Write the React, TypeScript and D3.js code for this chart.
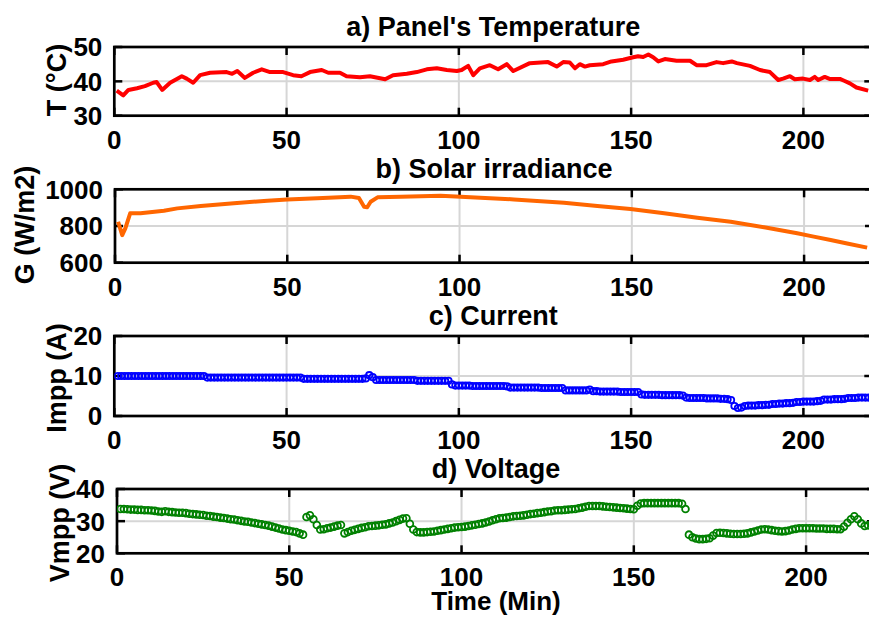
import React from "react";
import * as d3 from "d3";

// a) panel temperature (min, degC)
const tempTime = [0.7, 2.6, 4.1, 6.6, 8.9, 11.3, 12.3, 13.9, 16.2, 19.6, 21, 22.9, 24.9, 27.8, 32.6, 34.2, 35.7, 37.9, 40.3, 42.8, 45.2, 49, 51.9, 54.3, 56.8, 60.2, 62.1, 65.5, 67.4, 71.3, 74.2, 78.6, 80.9, 84.9, 87.8, 90.7, 93.6, 96.5, 99.4, 100.8, 102.7, 104.2, 106.1, 109, 111.4, 113.9, 115.8, 120.6, 125.9, 128.4, 130.3, 132.2, 133.7, 135.1, 136.6, 138, 141.9, 144.3, 147.7, 150.6, 152, 153.5, 155, 156.4, 157.9, 159.8, 163.2, 167.1, 169, 171.9, 174.8, 176.7, 179.2, 180.7, 184.5, 187.4, 190.3, 192.7, 194.1, 196.1, 197.5, 199.9, 201.9, 203.3, 204.3, 206.2, 207.6, 210.6, 212, 213.5, 215.4, 218.8];
const tempVal = [37.3, 35.9, 37.5, 38, 38.6, 39.6, 39.8, 37.5, 39.6, 41.5, 40.8, 39.6, 41.8, 42.5, 42.7, 42.2, 43, 41, 42.5, 43.5, 42.7, 42.7, 41.8, 41.5, 42.7, 43.3, 42.5, 42.5, 41.5, 41.2, 41.5, 40.6, 41.8, 42.2, 42.7, 43.5, 43.8, 43.3, 43, 43.3, 44.5, 41.8, 43.8, 44.7, 43.5, 45, 43, 45.3, 45.6, 44.3, 45.6, 45.5, 43.8, 45, 44.3, 44.7, 45, 45.8, 46.3, 47, 47.3, 47.1, 47.8, 47, 45.8, 46.5, 46, 46, 44.7, 44.7, 45.6, 45.3, 45.8, 45.3, 44.5, 43.3, 42.7, 40.4, 40.8, 41.5, 40.6, 40.8, 40.4, 41.3, 40.4, 41.3, 40.7, 40.7, 40.1, 39.4, 38.2, 37.3];

// b) solar irradiance (W/m2)
const irrTime = [0.9, 2.1, 3, 4.4, 7.4, 14.2, 18.1, 24.9, 34.5, 44.2, 50, 58.7, 68.4, 70.8, 72.3, 73.2, 74.2, 76.2, 83, 94.5, 100.3, 115.8, 130.3, 140, 149.6, 159.4, 169, 178.7, 188.4, 198, 202.8, 207.7, 212.5, 218.3];
const irrVal = [823, 750, 787, 869, 870, 883, 896, 909, 924, 938, 945, 951, 960, 953, 905, 902, 932, 956, 960, 965, 960, 945, 927, 909, 893, 869, 845, 823, 793, 760, 742, 724, 705, 682];

// c) and d) one sample per minute, starting at minute 1
const impp = [
  10.0, 10.0, 10.0, 10.0, 10.0, 10.0, 10.0, 10.0, 10.0, 10.0,
  10.0, 10.0, 10.0, 10.0, 10.0, 10.0, 10.0, 10.0, 10.0, 10.0,
  10.0, 10.0, 10.0, 10.0, 10.0, 10.0, 9.6, 9.6, 9.6, 9.6,
  9.6, 9.6, 9.6, 9.6, 9.6, 9.6, 9.6, 9.6, 9.6, 9.6,
  9.6, 9.6, 9.6, 9.6, 9.6, 9.6, 9.6, 9.6, 9.6, 9.6,
  9.6, 9.6, 9.6, 9.6, 9.3, 9.3, 9.3, 9.3, 9.3, 9.3,
  9.3, 9.3, 9.3, 9.3, 9.3, 9.3, 9.3, 9.3, 9.3, 9.3,
  9.3, 9.3, 9.4, 10.2, 9.7, 9.0, 9.0, 9.0, 9.0, 9.0,
  9.0, 9.0, 9.0, 9.0, 9.0, 9.0, 9.0, 8.8, 8.8, 8.8,
  8.8, 8.8, 8.8, 8.8, 8.8, 8.8, 8.8, 7.9, 7.6, 7.6,
  7.6, 7.6, 7.6, 7.5, 7.5, 7.5, 7.5, 7.5, 7.5, 7.5,
  7.5, 7.5, 7.5, 7.4, 7.1, 7.1, 7.1, 7.1, 7.1, 7.1,
  7.1, 7.1, 7.1, 7.0, 7.0, 7.0, 7.0, 7.0, 7.0, 7.0,
  6.4, 6.4, 6.4, 6.4, 6.4, 6.4, 6.4, 6.6, 6.2, 6.2,
  6.1, 6.1, 6.1, 6.1, 6.1, 6.1, 6.0, 6.0, 6.0, 6.0,
  6.0, 6.0, 5.4, 5.3, 5.3, 5.3, 5.3, 5.3, 5.2, 5.2,
  5.2, 5.2, 5.2, 5.2, 5.1, 4.6, 4.5, 4.5, 4.5, 4.5,
  4.5, 4.4, 4.4, 4.4, 4.4, 4.3, 4.3, 4.2, 4.0, 2.5,
  2.0, 2.1, 2.5, 2.6, 2.6, 2.6, 2.7, 2.7, 2.8, 2.8,
  3.0, 3.0, 3.1, 3.1, 3.2, 3.2, 3.3, 3.5, 3.5, 3.6,
  3.6, 3.6, 3.6, 3.7, 3.8, 4.1, 4.1, 4.1, 4.2, 4.2,
  4.2, 4.3, 4.5, 4.5, 4.5, 4.6, 4.6, 4.6, 4.6,
];
const vmpp = [
  33.8, 33.8, 33.7, 33.6, 33.6, 33.5, 33.5, 33.4, 33.4, 33.3,
  33.2, 33.0, 32.9, 33.1, 32.9, 32.8, 32.7, 32.6, 32.6, 32.5,
  32.3, 32.2, 32.1, 32.0, 31.9, 31.7, 31.6, 31.4, 31.3, 31.1,
  31.0, 30.8, 30.6, 30.5, 30.3, 30.1, 29.9, 29.8, 29.6, 29.4,
  29.2, 29.0, 28.8, 28.6, 28.3, 28.0, 27.7, 27.4, 27.2, 27.0,
  26.8, 26.6, 26.2, 25.8, 31.3, 31.8, 30.6, 28.8, 27.4, 27.5,
  27.8, 28.0, 28.3, 28.6, 28.8, 26.2, 26.6, 27.0, 27.3, 27.6,
  27.9, 28.1, 28.4, 28.5, 28.6, 28.7, 28.9, 29.0, 29.3, 29.6,
  30.0, 30.4, 30.8, 30.9, 29.2, 27.4, 26.6, 26.5, 26.5, 26.6,
  26.7, 26.8, 27.0, 27.2, 27.4, 27.6, 27.8, 28.0, 28.1, 28.2,
  28.3, 28.5, 28.7, 28.9, 29.1, 29.3, 29.6, 29.9, 30.3, 30.6,
  30.9, 31.0, 31.1, 31.3, 31.5, 31.6, 31.7, 31.8, 32.0, 32.2,
  32.3, 32.5, 32.6, 32.8, 33.0, 33.1, 33.3, 33.4, 33.4, 33.5,
  33.6, 33.7, 33.8, 34.0, 34.2, 34.5, 34.7, 34.7, 34.7, 34.7,
  34.6, 34.5, 34.4, 34.3, 34.2, 34.1, 34.0, 33.9, 33.8, 33.7,
  34.8, 35.5, 35.6, 35.6, 35.6, 35.6, 35.6, 35.6, 35.6, 35.6,
  35.6, 35.6, 35.6, 35.4, 33.8, 25.8, 25.0, 24.6, 24.4, 24.4,
  24.5, 24.7, 25.5, 26.3, 26.4, 26.3, 26.2, 26.1, 26.0, 26.0,
  26.0, 26.1, 26.2, 26.5, 26.8, 27.1, 27.4, 27.5, 27.4, 27.2,
  27.0, 26.9, 26.8, 26.9, 27.1, 27.4, 27.6, 27.8, 27.8, 27.8,
  27.8, 27.8, 27.7, 27.7, 27.7, 27.6, 27.6, 27.6, 27.5, 27.5,
  28.3, 29.5, 30.6, 31.5, 30.6, 29.3, 28.5, 28.7, 29.0,
];
const minutes = d3.range(1, impp.length + 1);

const xTicks = [0, 50, 100, 150, 200];
const tempTicks = [30, 40, 50];
const irrTicks = [600, 800, 1000];
const imppTicks = [0, 10, 20];
const vmppTicks = [20, 30, 40];

const FONT = "'Liberation Sans', Arial, Helvetica, sans-serif";
const PLOT_W = 758; // 0..220 min

type AxesProps = {
  id: string;
  left: number;
  top: number;
  bottom: number;
  yTicks: number[];
  title: string;
  ylabel: string;
  labX: number;
  labY: number;
  draw: (x: d3.ScaleLinear<number, number>, y: d3.ScaleLinear<number, number>) => React.ReactNode;
};

function Axes({ id, left, top, bottom, yTicks, title, ylabel, labX, labY, draw }: AxesProps) {
  const x = d3.scaleLinear().domain([0, 220]).range([left, left + PLOT_W]);
  const y = d3
    .scaleLinear()
    .domain([yTicks[0], yTicks[yTicks.length - 1]])
    .range([bottom, top]);
  const right = left + PLOT_W;
  const tick = 8;

  return (
    <g>
      <defs>
        <clipPath id={id}>
          <rect x={left} y={top} width={PLOT_W} height={bottom - top} />
        </clipPath>
      </defs>
      {/* grid */}
      {xTicks.slice(1).map((t) => (
        <line key={"gx" + t} x1={x(t)} x2={x(t)} y1={top} y2={bottom} stroke="#d6d6d6" strokeWidth={2} />
      ))}
      {yTicks.slice(1, -1).map((t) => (
        <line key={"gy" + t} x1={left} x2={right} y1={y(t)} y2={y(t)} stroke="#d6d6d6" strokeWidth={2} />
      ))}
      {/* ticks */}
      {xTicks.map((t) => (
        <g key={"tx" + t}>
          <line x1={x(t)} x2={x(t)} y1={bottom} y2={bottom - tick} stroke="#000" strokeWidth={2.5} />
          <line x1={x(t)} x2={x(t)} y1={top} y2={top + tick} stroke="#000" strokeWidth={2.5} />
          <text x={x(t)} y={bottom + 33} textAnchor="middle" fontSize={26} fontWeight="bold" fontFamily={FONT}>
            {t}
          </text>
        </g>
      ))}
      {yTicks.map((t) => (
        <g key={"ty" + t}>
          <line x1={left} x2={left + tick} y1={y(t)} y2={y(t)} stroke="#000" strokeWidth={2.5} />
          <line x1={right} x2={right - tick} y1={y(t)} y2={y(t)} stroke="#000" strokeWidth={2.5} />
          <text x={left - 12} y={y(t)} dy="0.36em" textAnchor="end" fontSize={26} fontWeight="bold" fontFamily={FONT}>
            {t}
          </text>
        </g>
      ))}
      <rect x={left} y={top} width={PLOT_W} height={bottom - top} fill="none" stroke="#000" strokeWidth={2.7} />
      <g clipPath={`url(#${id})`}>{draw(x, y)}</g>
      <text x={(left + right) / 2} y={top - 11} textAnchor="middle" fontSize={27} fontWeight="bold" fontFamily={FONT}>
        {title}
      </text>
      <text
        transform={`translate(${labX},${labY}) rotate(-90)`}
        dy="0.36em"
        textAnchor="middle"
        fontSize={27}
        fontWeight="bold"
        fontFamily={FONT}
      >
        {ylabel}
      </text>
    </g>
  );
}

export default function App() {
  const lineOf = (xs: number[], ys: number[], x: any, y: any) =>
    d3
      .line<number>()
      .x((_, i) => x(xs[i]))
      .y((d) => y(d))(ys) || "";

  return (
    <svg
      width={869}
      height={617}
      style={{ position: "absolute", left: 0, top: 0, background: "#fff" }}
    >
      <Axes
        id="cpA"
        left={114.3}
        top={47}
        bottom={115.7}
        yTicks={tempTicks}
        title="a) Panel's Temperature"
        ylabel="T (°C)"
        labX={56}
        labY={80}
        draw={(x, y) => (
          <path d={lineOf(tempTime, tempVal, x, y)} fill="none" stroke="#ff0000" strokeWidth={4} strokeLinejoin="round" />
        )}
      />
      <Axes
        id="cpB"
        left={115}
        top={189.3}
        bottom={262.7}
        yTicks={irrTicks}
        title="b) Solar irradiance"
        ylabel="G (W/m2)"
        labX={24}
        labY={225}
        draw={(x, y) => (
          <path d={lineOf(irrTime, irrVal, x, y)} fill="none" stroke="#ff6600" strokeWidth={4} strokeLinejoin="round" />
        )}
      />
      <Axes
        id="cpC"
        left={114.3}
        top={336}
        bottom={416}
        yTicks={imppTicks}
        title="c) Current"
        ylabel="Impp (A)"
        labX={56}
        labY={378}
        draw={(x, y) =>
          impp.map((v, i) => (
            <circle key={i} cx={x(minutes[i])} cy={y(v)} r={3.2} fill="none" stroke="#0000ff" strokeWidth={1.8} />
          ))
        }
      />
      <Axes
        id="cpD"
        left={117}
        top={489}
        bottom={553.3}
        yTicks={vmppTicks}
        title="d) Voltage"
        ylabel="Vmpp (V)"
        labX={59}
        labY={523}
        draw={(x, y) =>
          vmpp.map((v, i) => (
            <circle key={i} cx={x(minutes[i])} cy={y(v)} r={3.4} fill="none" stroke="#008000" strokeWidth={1.8} />
          ))
        }
      />
      <text x={496} y={610} textAnchor="middle" fontSize={26} fontWeight="bold" fontFamily={FONT}>
        Time (Min)
      </text>
    </svg>
  );
}
